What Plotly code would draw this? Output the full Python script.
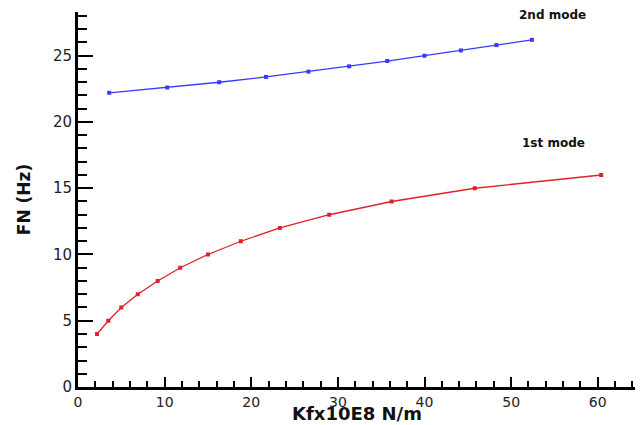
import plotly.graph_objects as go

# 1st mode data
kfx_mode1 = [2.2, 3.5, 5.0, 6.9, 9.2, 11.8, 15.0, 18.8, 23.3, 29.0, 36.2, 45.8, 60.4]
fn_mode1 = [4, 5, 6, 7, 8, 9, 10, 11, 12, 13, 14, 15, 16]

# 2nd mode data
kfx_mode2 = [3.6, 10.3, 16.3, 21.7, 26.6, 31.3, 35.7, 40.0, 44.2, 48.3, 52.4]
fn_mode2 = [22.2, 22.6, 23.0, 23.4, 23.8, 24.2, 24.6, 25.0, 25.4, 25.8, 26.2]

labels = ["1st mode", "2nd mode"]
x_title = "Kfx10E8 N/m"
y_title = "FN (Hz)"

fig = go.Figure()
fig.add_trace(go.Scatter(x=kfx_mode1, y=fn_mode1, mode="lines+markers",
                         line=dict(color="#e0202a", width=1.3),
                         marker=dict(symbol="square", size=4, color="#e0202a"),
                         name=labels[0], showlegend=False))
fig.add_trace(go.Scatter(x=kfx_mode2, y=fn_mode2, mode="lines+markers",
                         line=dict(color="#3a3aff", width=1.3),
                         marker=dict(symbol="square", size=4, color="#3a3aff"),
                         name=labels[1], showlegend=False))

fig.add_annotation(x=54.9, y=18.4, text="<b>" + labels[0] + "</b>", showarrow=False,
                   font=dict(family="DejaVu Sans", size=12, color="#111"),
                   xanchor="center", yanchor="middle")
fig.add_annotation(x=54.8, y=28.05, text="<b>" + labels[1] + "</b>", showarrow=False,
                   font=dict(family="DejaVu Sans", size=12, color="#111"),
                   xanchor="center", yanchor="middle")

# x-axis title placed as paper annotation for precise position
fig.add_annotation(x=0.5, xref="paper", y=-0.1, yref="paper",
                   text="<b>" + x_title + "</b>", showarrow=False,
                   font=dict(family="DejaVu Sans", size=18, color="#111"),
                   xanchor="center", yanchor="bottom", borderpad=0)

fig.update_layout(
    width=643, height=425,
    margin=dict(l=78, r=8, t=12, b=38),
    paper_bgcolor="white", plot_bgcolor="white",
    font=dict(family="DejaVu Sans", color="#222"),
    xaxis=dict(range=[0, 64.3], dtick=10, tick0=0, showgrid=False, zeroline=False,
               showline=True, linewidth=3, linecolor="black", automargin=False,
               ticks="inside", ticklen=10, tickwidth=2, tickcolor="black",
               tickfont=dict(size=14, color="#222"),
               minor=dict(dtick=2, ticks="inside", ticklen=6, tickwidth=1.5, tickcolor="black")),
    yaxis=dict(range=[0, 28.3], dtick=5, tick0=0, showgrid=False, zeroline=False,
               showline=True, linewidth=3, linecolor="black", automargin=False,
               ticks="inside", ticklen=15, tickwidth=2, tickcolor="black",
               tickfont=dict(size=15, color="#222"),
               minor=dict(dtick=1, ticks="inside", ticklen=9, tickwidth=1.5, tickcolor="black"),
               title=dict(text="<b>" + y_title + "</b>", font=dict(size=17, color="#111"), standoff=18)),
)

fig.write_html("out.html")
